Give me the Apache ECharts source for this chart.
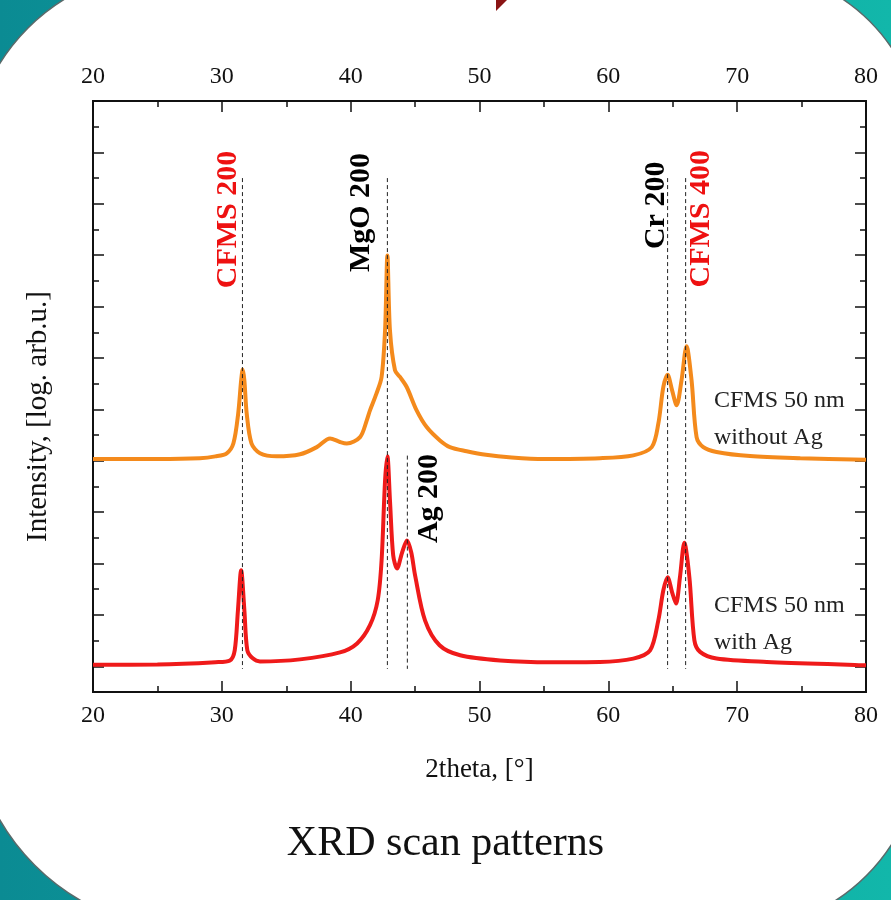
<!DOCTYPE html>
<html>
<head>
<meta charset="utf-8">
<title>XRD scan patterns</title>
<script src="https://cdn.jsdelivr.net/npm/echarts@6/dist/echarts.min.js"></script>
<style>
  html, body { margin: 0; padding: 0; background: #fff; }
  #chart { width: 891px; height: 900px; }
</style>
</head>
<body>
<div id="chart"></div>
<script>
// 2theta (deg) and log intensity (arb. units)
const orangeX = [20, 25, 28.3, 29.5, 30.38, 30.9, 31.27, 31.5, 31.62, 31.75, 31.93, 32.3, 32.96, 34.26, 36.07, 37.37, 38.4, 39.17, 39.7, 40.73, 41.25, 41.5, 42.0, 42.4, 42.67, 42.85, 43.05, 43.44, 43.83, 44.35, 45.12, 45.9, 46.93, 47.7, 49, 50.5, 52.5, 55, 59.35, 61.94, 63.37, 63.88, 64.27, 64.6, 64.95, 65.3, 65.68, 66.07, 66.46, 66.85, 67.37, 68.4, 71.0, 74.9, 80]
const orangeY = [9.07, 9.07, 9.10, 9.17, 9.29, 9.68, 10.84, 12.13, 12.55, 12.13, 10.84, 9.68, 9.29, 9.17, 9.25, 9.53, 9.87, 9.73, 9.67, 9.92, 10.57, 10.96, 11.61, 12.26, 14.07, 16.99, 14.07, 12.52, 12.26, 11.87, 10.96, 10.31, 9.79, 9.53, 9.37, 9.23, 9.13, 9.07, 9.10, 9.21, 9.53, 10.44, 11.87, 12.35, 11.74, 11.16, 12.13, 13.46, 12.13, 9.92, 9.53, 9.34, 9.18, 9.10, 9.04]

const redX = [20, 25, 29.5, 30.63, 31.0, 31.25, 31.5, 31.75, 31.98, 32.4, 32.96, 36.07, 39.17, 40.5, 41.5, 42.1, 42.4, 42.67, 42.85, 43.05, 43.3, 43.6, 44.0, 44.37, 44.7, 45.0, 45.77, 46.9, 48.5, 51.6, 55.5, 59.35, 61.94, 63.24, 63.88, 64.27, 64.6, 64.95, 65.25, 65.56, 65.9, 66.29, 66.68, 67.12, 68.4, 72.3, 80]
const redY = [1.06, 1.07, 1.16, 1.23, 1.62, 3.18, 4.74, 3.18, 1.62, 1.31, 1.19, 1.27, 1.54, 1.89, 2.6, 3.57, 5.12, 8.23, 9.17, 7.46, 5.32, 4.81, 5.44, 5.9, 5.44, 4.54, 2.79, 1.82, 1.43, 1.23, 1.16, 1.17, 1.30, 1.62, 2.79, 3.96, 4.47, 3.88, 3.44, 4.47, 5.81, 4.47, 2.01, 1.56, 1.30, 1.17, 1.04]

// reference peak positions (dashed lines)
const peakX = [31.6, 42.85, 44.4, 64.6, 66.0]
const peakTop = [20, 20, 9.2, 20, 20]
const peakBottom = [0.9, 0.9, 0.9, 0.9, 0.9]

// peak names, drawn rotated beside the lines
const tagText = ['CFMS 200', 'MgO 200', 'Ag 200', 'Cr 200', 'CFMS 400']
const tagX = [30.48, 40.8, 46.1, 63.7, 67.2]
const tagY = [18.39, 18.66, 7.53, 18.94, 18.42]
const tagColor = ['#ee1111', '#000', '#000', '#000', '#ee1111']

const FONT = '"Liberation Serif", "Times New Roman", serif'

const zip = (a, b) => a.map((v, i) => [v, b[i]])

let chart = echarts.init(document.getElementById('chart'), null, {renderer: 'canvas'})

let seriesList = [
  {
    name: 'CFMS 50 nm without Ag',
    type: 'line',
    data: zip(orangeX, orangeY),
    smooth: 0.3,
    showSymbol: false,
    lineStyle: {color: '#f48a1c', width: 4},
    z: 3
  },
  {
    name: 'CFMS 50 nm with Ag',
    type: 'line',
    data: zip(redX, redY),
    smooth: 0.3,
    showSymbol: false,
    lineStyle: {color: '#ef1a1a', width: 4},
    z: 3
  }
]

// dashed guide lines
for (let i = 0; i < peakX.length; i++) {
  seriesList.push({
    type: 'line',
    data: [[peakX[i], peakTop[i]], [peakX[i], peakBottom[i]]],
    showSymbol: false,
    silent: true,
    lineStyle: {color: '#222', width: 1, type: [4, 3]},
    z: 5
  })
}

// peak tags
seriesList.push({
  type: 'scatter',
  silent: true,
  symbolSize: 1,
  itemStyle: {color: 'rgba(0,0,0,0)', opacity: 1},
  data: tagText.map((t, i) => ({
    value: [tagX[i], tagY[i]],
    label: {color: tagColor[i]}
  })),
  label: {
    show: true,
    position: 'inside',
    rotate: 90,
    align: 'center',
    verticalAlign: 'middle',
    fontFamily: FONT,
    fontWeight: 'bold',
    fontSize: 30,
    formatter: p => tagText[p.dataIndex]
  },
  z: 6
})

const xAxisBase = {
  type: 'value',
  min: 20,
  max: 80,
  interval: 10,
  axisLine: {show: true, onZero: false, lineStyle: {color: '#111', width: 2}},
  axisTick: {inside: true, length: 11, lineStyle: {color: '#111', width: 1.5}},
  minorTick: {show: true, splitNumber: 2, length: 6, lineStyle: {color: '#111', width: 1.5}},
  axisLabel: {color: '#111', fontSize: 24, fontFamily: FONT, margin: 12},
  splitLine: {show: false}
}

const yAxisBase = {
  type: 'value',
  min: 0,
  max: 23,
  axisLine: {show: true, onZero: false, lineStyle: {color: '#111', width: 2}},
  axisLabel: {show: false},
  splitLine: {show: false}
}

let option = {
  animation: false,
  backgroundColor: 'transparent',
  title: {
    text: 'XRD scan patterns',
    left: 'center',
    top: 818,
    textStyle: {fontFamily: FONT, fontSize: 42, fontWeight: 'normal', color: '#111'}
  },
  graphic: [
    {
      type: 'rect',
      z: -20,
      silent: true,
      shape: {x: 0, y: 0, width: 891, height: 900},
      style: {
        fill: new echarts.graphic.LinearGradient(0, 0, 1, 0, [
          {offset: 0, color: '#0b8b93'},
          {offset: 1, color: '#12b7aa'}
        ])
      }
    },
    {
      type: 'rect',
      z: -19,
      silent: true,
      shape: {x: -30, y: -30, width: 951, height: 960, r: [198, 175, 186, 221]},
      style: {fill: '#ffffff', stroke: '#5a6a6a', lineWidth: 1.5}
    },
    {
      type: 'polygon',
      z: -18,
      silent: true,
      shape: {points: [[496, 0], [507, 0], [496, 11]]},
      style: {fill: '#8a1414'}
    },
    {
      type: 'text',
      left: 714,
      top: 382,
      silent: true,
      style: {text: 'CFMS 50 nm\nwithout Ag', font: '24px ' + FONT, fill: '#222', lineHeight: 37}
    },
    {
      type: 'text',
      left: 714,
      top: 587,
      silent: true,
      style: {text: 'CFMS 50 nm\nwith Ag', font: '24px ' + FONT, fill: '#222', lineHeight: 37}
    }
  ],
  grid: {left: 93, top: 101, width: 773, height: 591, containLabel: false},
  xAxis: [
    Object.assign({}, xAxisBase, {
      position: 'bottom',
      name: '2theta, [°]',
      nameLocation: 'middle',
      nameGap: 64,
      nameTextStyle: {fontFamily: FONT, fontSize: 27, color: '#111'}
    }),
    Object.assign({}, xAxisBase, {position: 'top'})
  ],
  yAxis: [
    Object.assign({}, yAxisBase, {
      position: 'left',
      interval: 1,
      axisTick: {inside: true, length: 6, lineStyle: {color: '#111', width: 1.5}},
      name: 'Intensity, [log. arb.u.]',
      nameLocation: 'middle',
      nameGap: 40,
      nameTextStyle: {fontFamily: FONT, fontSize: 29, color: '#111', padding: [0, 40, 0, 0]}
    }),
    // long ticks every second step, counted from the top
    Object.assign({}, yAxisBase, {
      position: 'left',
      inverse: true,
      interval: 2,
      axisTick: {inside: true, length: 11, lineStyle: {color: '#111', width: 1.5}}
    }),
    Object.assign({}, yAxisBase, {
      position: 'right',
      interval: 1,
      axisTick: {inside: true, length: 6, lineStyle: {color: '#111', width: 1.5}}
    }),
    Object.assign({}, yAxisBase, {
      position: 'right',
      inverse: true,
      interval: 2,
      axisTick: {inside: true, length: 11, lineStyle: {color: '#111', width: 1.5}}
    })
  ],
  series: seriesList
}
chart.setOption(option)
</script>
</body>
</html>
